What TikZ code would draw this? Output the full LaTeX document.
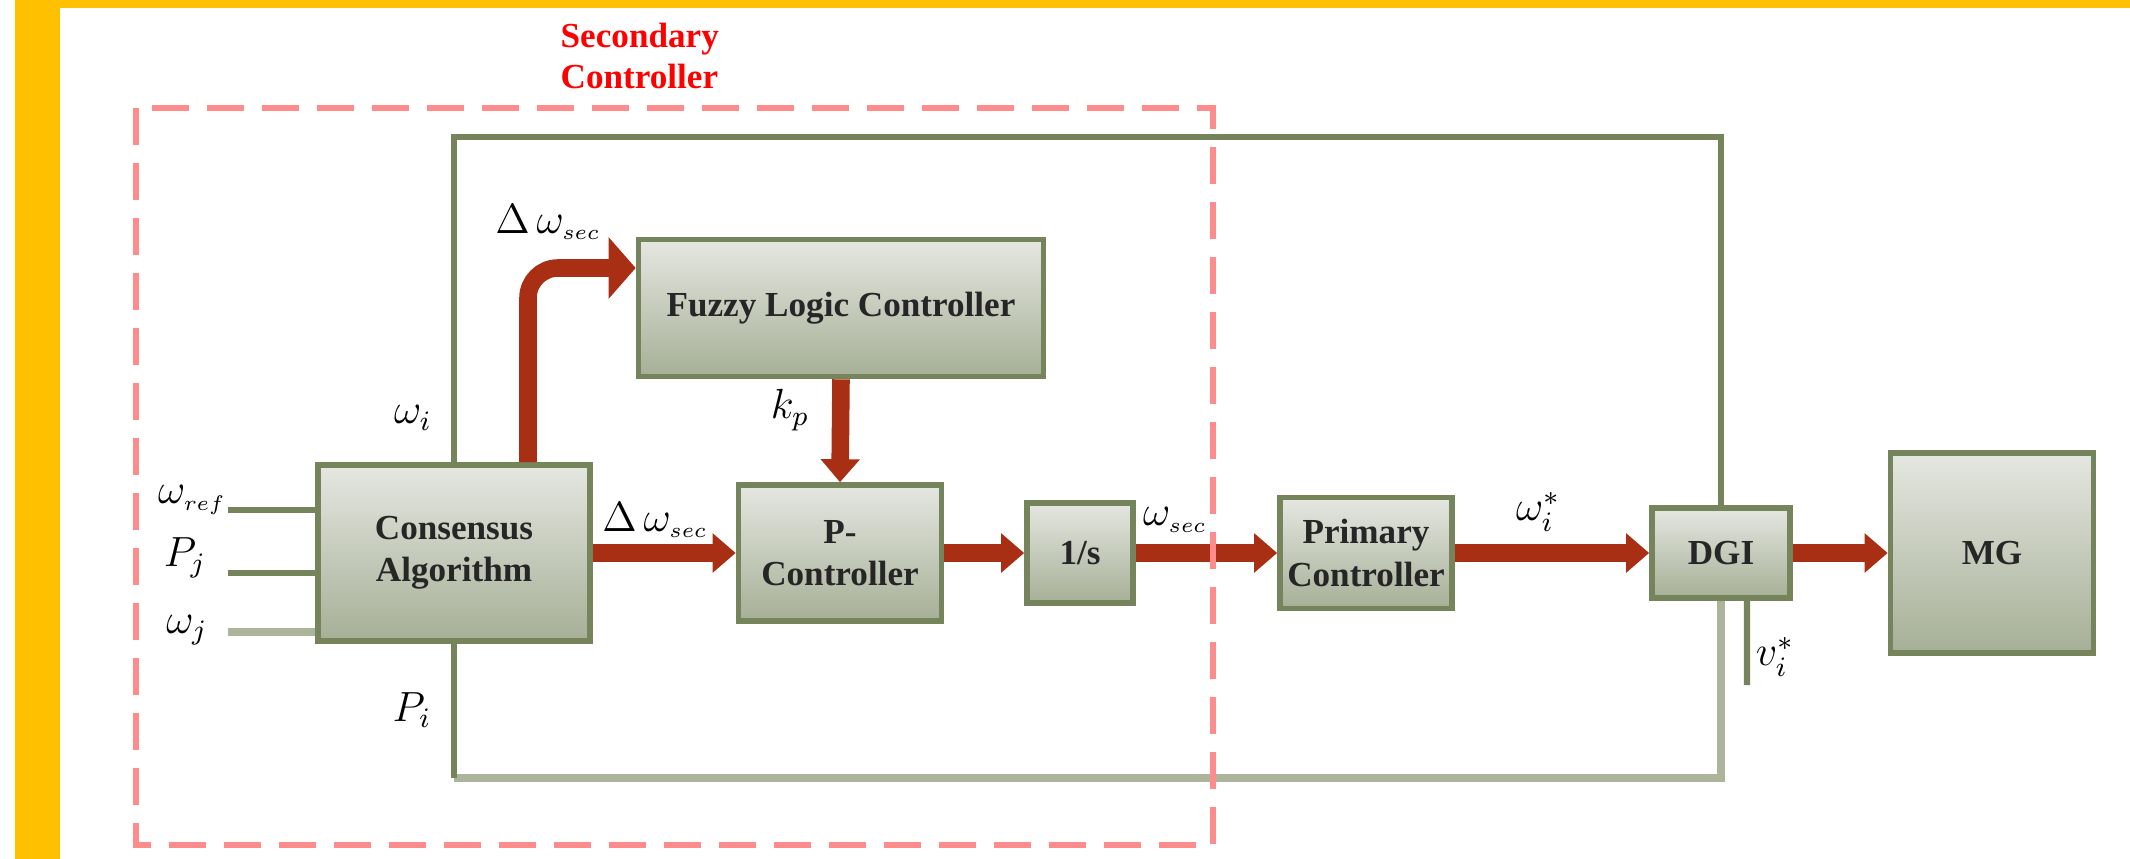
\documentclass[tikz,border=0pt]{standalone}
\usepackage{fontspec}
\setmainfont{Liberation Serif}
\usetikzlibrary{arrows.meta}
\definecolor{framey}{RGB}{255,192,0}
\definecolor{blkline}{RGB}{118,132,92}
\definecolor{wirelt}{RGB}{172,180,156}
\definecolor{blktop}{RGB}{229,231,225}
\definecolor{blkbot}{RGB}{166,175,150}
\definecolor{arrred}{RGB}{168,46,20}
\definecolor{secred}{RGB}{255,140,140}

\begin{document}
\begin{tikzpicture}[x=0.1mm,y=-0.1mm,font=\fontsize{10}{12}\selectfont\bfseries,
  blk/.style={draw=blkline,line width=1.6pt,top color=blktop,bottom color=blkbot,align=center,inner sep=0pt,text=black!85},
  wire/.style={draw=blkline,line width=1.8pt},
  wirel/.style={draw=wirelt,line width=2pt},
  bigarr/.style={draw=arrred,line width=5pt,-{Triangle[length=2.3mm,width=3.8mm]}},
  lbl/.style={font=\fontsize{12}{14}\selectfont}]
  \useasboundingbox (0,0) rectangle (2130,859);
  % ---------------- frame ----------------
  \fill[framey] (15,0) rectangle (2130,8);
  \fill[framey] (15,0) rectangle (60,859);
  % ---------------- blocks ----------------
  \node[blk,minimum width=27.2mm,minimum height=17.6mm] (cons) at (454,553) {Consensus\\Algorithm};
  \node[blk,minimum width=40.5mm,minimum height=13.7mm] (flc) at (841,308) {Fuzzy Logic Controller};
  \node[blk,minimum width=20.3mm,minimum height=13.6mm] (pctl) at (840,553) {P-\\Controller};
  \node[blk,minimum width=10.6mm,minimum height=10mm] (integ) at (1080,553) {1/s};
  \node[blk,minimum width=17.2mm,minimum height=11.1mm] (prim) at (1366,553) {Primary\\Controller};
  \node[blk,minimum width=13.8mm,minimum height=9mm] (dgi) at (1721,553) {DGI};
  \node[blk,minimum width=20.3mm,minimum height=20mm] (mg) at (1992,553) {MG};
  % ---------------- inputs ----------------
  \coordinate (in1) at (228,510);
  \coordinate (in2) at (228,573);
  \coordinate (in3) at (228,632);
  \draw[wire] (in1) -- (in1 -| cons.west);
  \draw[wire] (in2) -- (in2 -| cons.west);
  \draw[wirel] (in3) -- (in3 -| cons.west);
  \node[lbl] (lref) at (192,500) {$\omega_{\scriptscriptstyle ref}$};
  \node[lbl] (lpj) at (185,558) {$P_j$};
  \node[lbl] (lwj) at (187,630) {$\omega_j$};
  % ---------------- feedback ----------------
  \coordinate (ftop) at (454,137);
  \coordinate (fbot) at (454,778);
  \coordinate (vend) at (1747,685);
  \draw[wire] (cons.north) -- (ftop) -| (dgi.north);
  \draw[wirel] (dgi.south) |- (fbot);
  \draw[wire] (fbot) -- (cons.south);
  \draw[wire] ([xshift=2.6mm]dgi.south) -- (vend);
  \node[lbl] (lwi) at (413,418) {$\omega_i$};
  \node[lbl] (lpi) at (412,710) {$P_i$};
  \node[lbl] (lvi) at (1775,657) {$v_i^{*}$};
  % ---------------- main path ----------------
  \draw[bigarr,-{Triangle[length=2.7mm,width=6mm]},rounded corners=3mm] ([xshift=7.4mm]cons.north) |- ([yshift=4mm]flc.west);
  \draw[bigarr] (flc.south) -- (pctl.north);
  \draw[bigarr] (cons.east) -- (pctl.west);
  \draw[bigarr] (pctl.east) -- (integ.west);
  \draw[bigarr] (integ.east) -- (prim.west);
  \draw[bigarr] (prim.east) -- (dgi.west);
  \draw[bigarr] (dgi.east) -- (mg.west);
  \node[lbl] (ldw1) at (548,222) {$\Delta\,\omega_{\scriptscriptstyle sec}$};
  \node[lbl] (lkp) at (790,410) {$k_{p}$};
  \node[lbl] (ldw2) at (655,520) {$\Delta\,\omega_{\scriptscriptstyle sec}$};
  \node[lbl] (lws) at (1175,520) {$\omega_{\scriptscriptstyle sec}$};
  \node[lbl] (lwis) at (1538,512) {$\omega_i^{*}$};
  % ---------------- secondary controller ----------------
  \node[text=red,align=left,anchor=west,inner sep=0pt,font=\fontsize{10}{11.5}\selectfont\bfseries] (sectitle) at (560,56) {Secondary\\Controller};
  \draw[secred,line width=1.5pt,dash pattern=on 3.7mm off 1.8mm] (136,108) rectangle (1213,845);
\end{tikzpicture}
\end{document}
